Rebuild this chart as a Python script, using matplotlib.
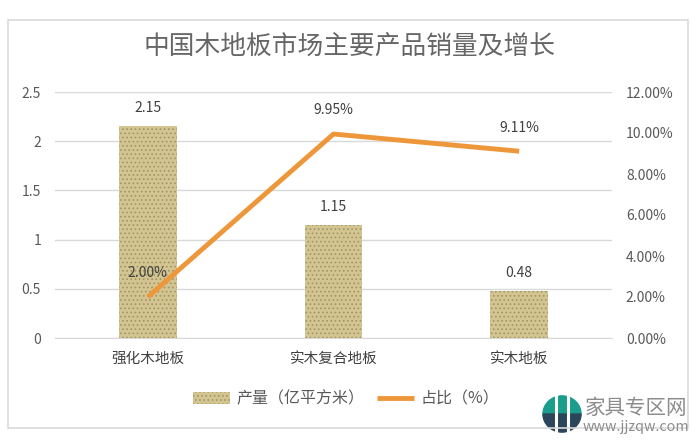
import matplotlib.pyplot as plt
from matplotlib.patches import Rectangle, Wedge
from matplotlib.ticker import FuncFormatter

plt.rcParams["font.family"] = ["Noto Sans CJK SC", "DejaVu Sans"]
plt.rcParams["hatch.linewidth"] = 0.7

categories = ["强化木地板", "实木复合地板", "实木地板"]
output = [2.15, 1.15, 0.48]
share = [2.00, 9.95, 9.11]
left_ticks = [0, 0.5, 1, 1.5, 2, 2.5]
right_ticks = [0, 2, 4, 6, 8, 10, 12]


def main():
    fig = plt.figure(figsize=(7, 4.47), dpi=100)
    fig.patches.append(Rectangle((8 / 700, 1 - 428 / 447), 680 / 700, 408 / 447,
                                 transform=fig.transFigure, fill=False,
                                 edgecolor="#d9d9d9", linewidth=1.2))

    ax = fig.add_axes([55 / 700, 109 / 447, 557 / 700, 246 / 447])
    x = list(range(len(categories)))
    bars = ax.bar(x, output, width=0.31, color="#d3c591", edgecolor="#a39463",
                  hatch="....", linewidth=0, zorder=2)
    for b, v in zip(bars, output):
        ax.annotate(f"{v:.2f}", (b.get_x() + b.get_width() / 2, v),
                    xytext=(0, 8), textcoords="offset points", ha="center",
                    va="bottom", fontsize=10, color="#404040")
    ax.set_xlim(-0.5, 2.5)
    ax.set_ylim(0, 2.5)
    ax.set_yticks(left_ticks)
    ax.set_yticklabels(["0", "0.5", "1", "1.5", "2", "2.5"])
    ax.set_xticks(x)
    ax.set_xticklabels(categories)
    ax.grid(axis="y", color="#d9d9d9", linewidth=1, zorder=0)
    ax.set_axisbelow(True)
    ax.tick_params(axis="y", length=0, pad=10, labelsize=10, labelcolor="#595959")
    ax.tick_params(axis="x", length=0, pad=10, labelsize=10.5, labelcolor="#404040")
    for s in ax.spines.values():
        s.set_visible(False)
    ax.spines["bottom"].set_visible(True)
    ax.spines["bottom"].set_color("#d9d9d9")

    ax2 = ax.twinx()
    line, = ax2.plot(x, share, color="#ed973a", linewidth=3.5, zorder=3,
                     solid_capstyle="butt")
    ax2.set_ylim(0, 12)
    ax2.set_yticks(right_ticks)
    ax2.yaxis.set_major_formatter(FuncFormatter(lambda v, p: f"{v:.2f}%"))
    ax2.tick_params(axis="y", length=0, pad=10, labelsize=10, labelcolor="#595959")
    for s in ax2.spines.values():
        s.set_visible(False)
    for xi, v in zip(x, share):
        ax2.annotate(f"{v:.2f}%", (xi, v), xytext=(0, 12),
                     textcoords="offset points", ha="center", va="bottom",
                     fontsize=10, color="#404040")

    fig.text(0.5, 1 - 48 / 447, "中国木地板市场主要产品销量及增长", ha="center",
             va="center", fontsize=18.5, color="#666666", fontweight="light")

    fig.legend([bars, line], ["产量（亿平方米）", "占比（%）"], loc="center",
               bbox_to_anchor=(346 / 700, 1 - 399 / 447), ncol=2, frameon=False,
               fontsize=11.5, labelcolor="#595959", handlelength=2.3,
               columnspacing=0.8, handletextpad=0.4)

    # watermark in the lower right corner
    lax = fig.add_axes([542 / 700, 1 - 433 / 447, 40 / 700, 38 / 447])
    lax.add_patch(Wedge((0, 0), 1, 0, 180, color="#1b9d8d"))
    lax.add_patch(Wedge((0, 0), 1, 180, 360, color="#2b465a"))
    for xs in (-0.32, 0.32):
        lax.plot([xs, xs], [-1.1, 1.1], color="white", linewidth=2.2)
    lax.set_xlim(-1.05, 1.05)
    lax.set_ylim(-1.05, 1.05)
    lax.axis("off")
    fig.text(636 / 700, 1 - 408 / 447, "家具专区网", fontsize=14.8, color="#8c8c8c",
             ha="center", va="center")
    fig.text(636 / 700, 1 - 427 / 447, "www.jjzqw.com", fontsize=10.3,
             color="#8c8c8c", ha="center", va="center")

    fig.savefig("out.png", dpi=100)


if __name__ == "__main__":
    main()
